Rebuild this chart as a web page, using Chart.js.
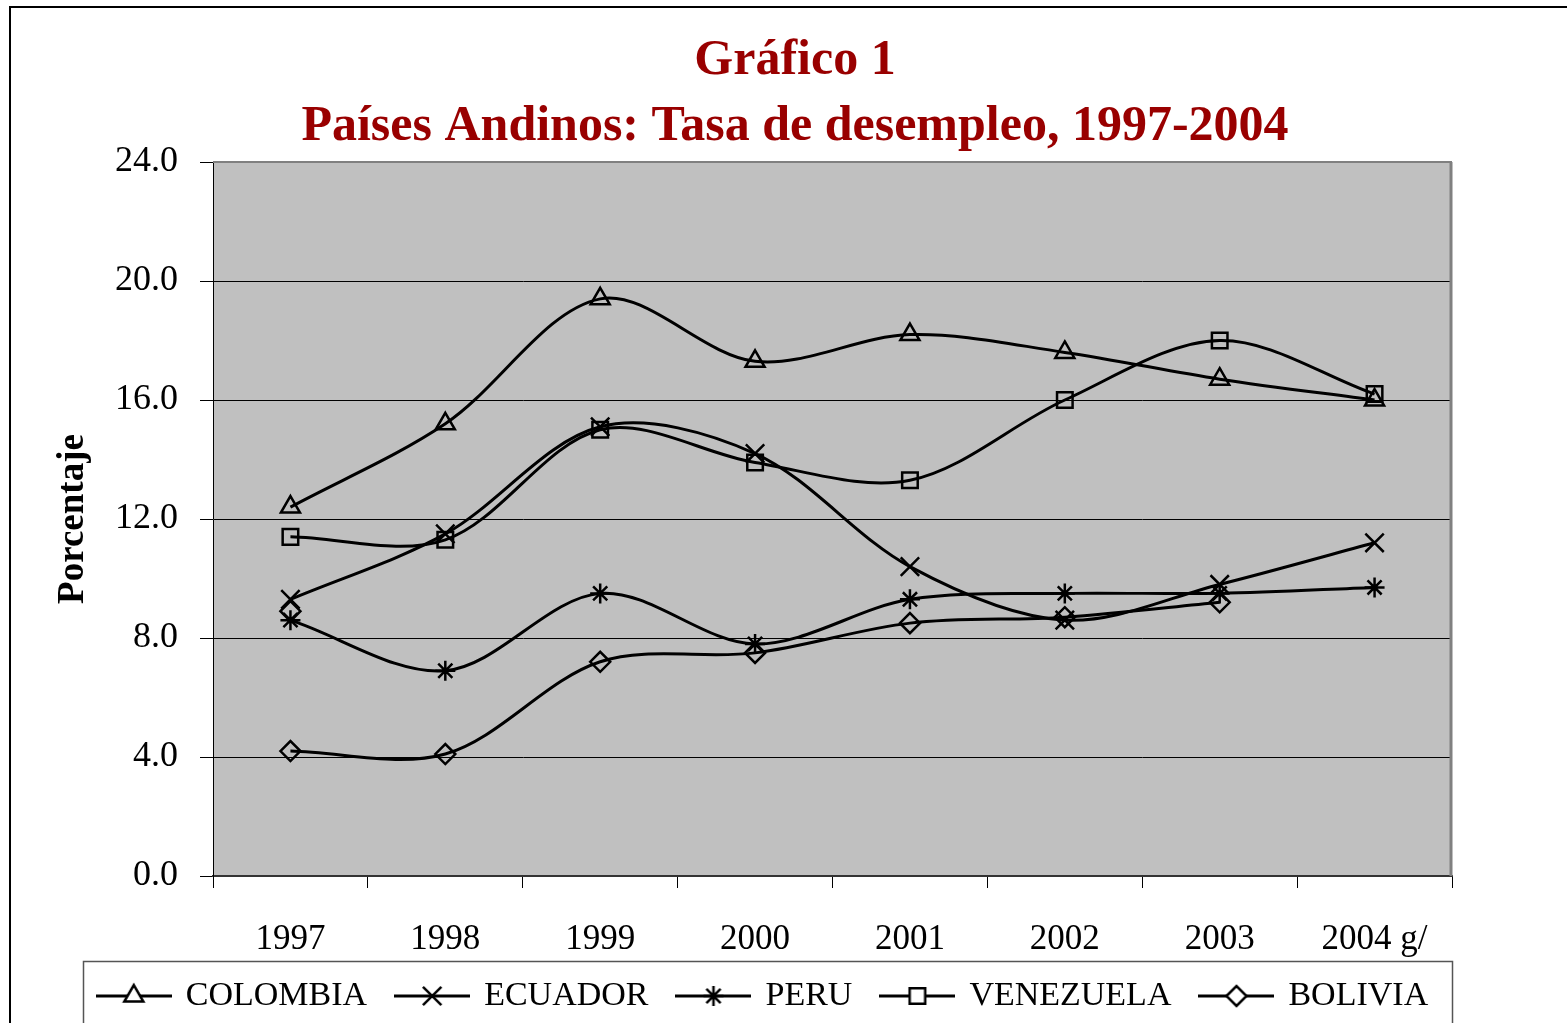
<!DOCTYPE html>
<html>
<head>
<meta charset="utf-8">
<script src="https://cdn.jsdelivr.net/npm/chart.js@4.4.1/dist/chart.umd.min.js"></script>
<style>
html, body { margin: 0; padding: 0; background: #fff; overflow: hidden; }
#frame { position: absolute; left: 9px; top: 6px; width: 1600px; height: 1100px;
         border-left: 2px solid #000; border-top: 2px solid #000; }
#wrap { position: absolute; left: 0; top: 0; width: 1567px; height: 1023px; }
</style>
</head>
<body>
<div id="frame"></div>
<div id="wrap"><canvas id="chart" width="1567" height="1023"></canvas></div>
<script>
// datos
const years = ['1997', '1998', '1999', '2000', '2001', '2002', '2003', '2004 g/'];
const colombia  = [12.4, 15.2, 19.4, 17.3, 18.2, 17.6, 16.7, 16.0];
const ecuador   = [9.3, 11.5, 15.1, 14.2, 10.4, 8.6, 9.8, 11.2];
const peru      = [8.6, 6.9, 9.5, 7.8, 9.3, 9.5, 9.5, 9.7];
const venezuela = [11.4, 11.3, 15.0, 13.9, 13.3, 16.0, 18.0, 16.2];
const bolivia   = [4.2, 4.1, 7.2, 7.5, 8.5, 8.7, 9.2, null];
const loneMark  = [8.9, null, null, null, null, null, null, null];
const yMin = 0, yMax = 24, yStep = 4;

const serif = '"Liberation Serif", "Times New Roman", serif';

function legendImage(style, r) {
  const c = document.createElement('canvas');
  c.width = 76; c.height = 30;
  const g = c.getContext('2d');
  g.strokeStyle = '#000';
  g.lineWidth = 3;
  g.beginPath(); g.moveTo(0, 15); g.lineTo(76, 15); g.stroke();
  g.fillStyle = '#fff';
  g.lineWidth = 2.5;
  Chart.helpers.drawPoint(g, {pointStyle: style, rotation: 0, radius: r, borderWidth: 2.5}, 38, 15);
  return c;
}

function serie(label, data, style, r) {
  return {
    label: label,
    data: data,
    borderColor: '#000',
    borderWidth: 3,
    pointStyle: style,
    pointRadius: r,
    pointBorderWidth: 2.5,
    pointBorderColor: '#000',
    pointBackgroundColor: 'rgba(0,0,0,0)',
    tension: 0.33,
    legendImg: legendImage(style, r)
  };
}

const datasets = [
  serie('COLOMBIA', colombia, 'triangle', 11),
  serie('ECUADOR', ecuador, 'crossRot', 13),
  serie('PERU', peru, 'star', 10),
  serie('VENEZUELA', venezuela, 'rect', 11),
  serie('BOLIVIA', bolivia, 'rectRot', 10),
  Object.assign(serie('', loneMark, 'rectRot', 10), {showLine: false, noLegend: true})
];

const marco = {
  id: 'marco',
  beforeLayout(chart) {
    // la leyenda ocupa solo la franja de abajo
    const lg = chart.legend;
    if (lg && !lg._ajustada) {
      const fit = lg.fit.bind(lg);
      lg.fit = function () { fit(); this.height = 62; };
      lg._ajustada = true;
    }
  },
  afterLayout(chart) {
    const a = chart.chartArea;
    const lg = chart.legend;
    const mid = (83 + a.right) / 2 - 4;
    lg.left = mid - 740; lg.right = mid + 740; lg.width = 1480;
    lg.top = 949; lg.bottom = lg.top + lg.height;
    const t = chart.titleBlock;
    t.left = 10; t.right = 1580; t.width = 1570;
  },
  beforeDraw(chart) {
    const {ctx, chartArea: a} = chart;
    ctx.save();
    ctx.fillStyle = '#c0c0c0';
    ctx.fillRect(a.left, a.top, a.right - a.left, a.bottom - a.top);
    ctx.restore();
  },
  beforeDatasetsDraw(chart) {
    const {ctx, chartArea: a} = chart;
    ctx.save();
    ctx.strokeStyle = '#808080';
    ctx.lineWidth = 2;
    ctx.beginPath(); ctx.moveTo(a.left, a.top); ctx.lineTo(a.right, a.top); ctx.stroke();
    ctx.lineWidth = 3;
    ctx.beginPath(); ctx.moveTo(a.right - 1, a.top); ctx.lineTo(a.right - 1, a.bottom); ctx.stroke();
    ctx.restore();
  },
  afterDraw(chart) {
    const {ctx, chartArea: a} = chart;
    ctx.save();
    ctx.strokeStyle = '#555';
    ctx.lineWidth = 1.5;
    ctx.strokeRect(83.5, 961.5, a.right - 83, 120);
    ctx.restore();
  }
};

new Chart(document.getElementById('chart'), {
  type: 'line',
  data: { labels: years, datasets: datasets },
  plugins: [marco],
  options: {
    responsive: false,
    devicePixelRatio: 1,
    animation: false,
    layout: { padding: { left: 0, right: 115, top: 0, bottom: 0 } },
    plugins: {
      title: {
        display: true,
        text: ['Gráfico 1', 'Países Andinos: Tasa de desempleo, 1997-2004'],
        color: '#990000',
        font: { family: serif, size: 50, weight: 'bold', lineHeight: 1.32 },
        padding: { top: 28, bottom: 2 }
      },
      legend: {
        display: true,
        position: 'bottom',
        labels: {
          usePointStyle: true,
          pointStyleWidth: 70,
          boxWidth: 70,
          padding: 30,
          color: '#000',
          font: { family: serif, size: 34 },
          generateLabels(chart) {
            return chart.data.datasets
              .map((ds, i) => ({
                text: ds.label, datasetIndex: i, pointStyle: ds.legendImg,
                fillStyle: '#fff', strokeStyle: '#000', lineWidth: 0, hidden: false,
                fontColor: '#000', skip: ds.noLegend
              }))
              .filter(it => !it.skip);
          }
        }
      },
      tooltip: { enabled: false }
    },
    scales: {
      x: {
        offset: true,
        grid: { display: true, offset: true, drawOnChartArea: false, drawTicks: true,
                tickLength: 12, color: '#000', lineWidth: 1 },
        border: { display: true, color: '#333', width: 2 },
        ticks: { color: '#000', font: { family: serif, size: 35 }, padding: 31,
                 maxRotation: 0, autoSkip: false },
        afterFit(scale) { scale.height = 147 - scale.chart.legend.height; }
      },
      y: {
        min: yMin, max: yMax,
        grid: { color: '#000', lineWidth: 1, drawTicks: true, tickLength: 13 },
        border: { display: true, color: '#000', width: 1 },
        ticks: { stepSize: yStep, color: '#000', padding: 22,
                 font: { family: serif, size: 36 },
                 callback: v => Number(v).toFixed(1) },
        title: { display: true, text: 'Porcentaje', color: '#000',
                 font: { family: serif, size: 37, weight: 'bold' },
                 padding: { top: 51, bottom: 0 } },
        afterFit(scale) { scale.width = 213; }
      }
    }
  }
});
</script>
</body>
</html>
